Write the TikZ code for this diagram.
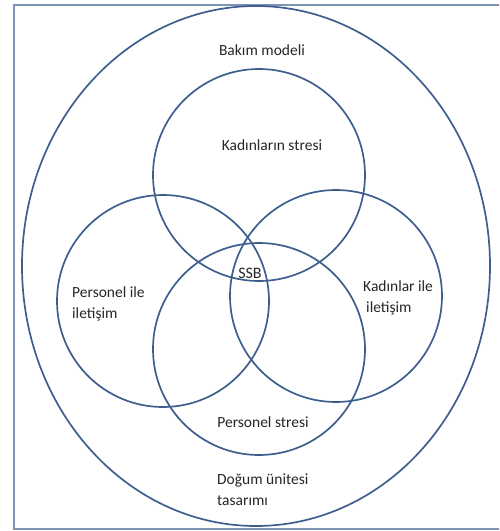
\documentclass[tikz,border=0pt]{standalone}
\usepackage{fontspec}
\setmainfont{Carlito}
\usetikzlibrary{shapes.geometric}
\definecolor{ringblue}{HTML}{3E5F8E}
\definecolor{framegray}{HTML}{7F93B5}
\begin{document}
\begin{tikzpicture}[x=1pt,y=-1pt,
  ring/.style={circle, draw=ringblue, line width=1.7pt, minimum size=212pt, inner sep=0pt},
  label/.style={inner sep=0pt, text=black!85, font=\fontsize{15.5}{21}\selectfont},
  framestyle/.style={draw=framegray, line width=1.4pt}]
\useasboundingbox (0,0) rectangle (499,531);
% frame (left, top, bottom)
\draw[framestyle] (499,5) -- (14,5) -- (14,529) -- (499,529);
% outer ellipse
\node[ellipse, draw=ringblue, line width=1.7pt, minimum width=468pt, minimum height=520pt, inner sep=0pt] (outer) at (256,266) {};
% four circles
\node[ring] (top) at (259,175) {};
\node[ring] (left) at (163,301) {};
\node[ring] (right) at (336,296) {};
\node[ring] (bottom) at (259,349) {};
% labels
\node[label] (t1) at (262,50) {Bakım modeli};
\node[label] (t2) at (272,145) {Kadınların stresi};
\node[label, font=\fontsize{16}{18}\selectfont] (t3) at (250,273) {SSB};
\node[label, anchor=west, align=left] (t4) at (72,304) {Personel ile\\iletişim};
\node[label, anchor=west, align=left] (t5) at (363,298) {Kadınlar ile\\\hspace*{3pt}iletişim};
\node[label] (t6) at (263,422) {Personel stresi};
\node[label, anchor=west, align=left] (t7) at (217,490) {Doğum ünitesi\\tasarımı};
\end{tikzpicture}
\end{document}
